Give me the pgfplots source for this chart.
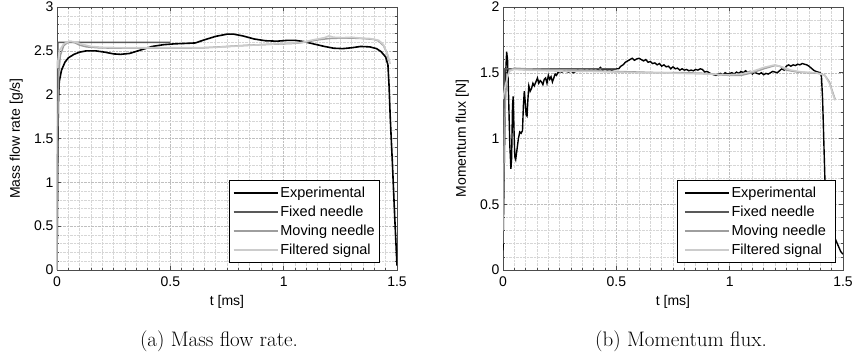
\documentclass[border=0pt]{standalone}
\usepackage{fontspec}
\usepackage{pgfplots}
\pgfplotsset{compat=1.18}
\newfontfamily\helv{Liberation Sans}
\definecolor{cfixed}{gray}{0.35}
\definecolor{cmoving}{gray}{0.62}
\definecolor{cfilt}{gray}{0.80}
\pgfplotsset{
  mystyle/.style={
    anchor=south west, scale only axis, width=340pt, height=263pt,
    xmin=0, xmax=1.5, xtick={0,0.5,1,1.5},
    minor x tick num=9, minor y tick num=4,
    grid=both,
    major grid style={densely dotted, black!25, line width=0.4pt},
    minor grid style={densely dotted, black!16, line width=0.4pt},
    axis line style={black!70, line width=0.6pt},
    tick style={black!70, line width=0.5pt},
    major tick length=4pt, minor tick length=2pt,
    tick align=inside,
    /pgf/number format/assume math mode=true,
    font=\helv\fontsize{14}{16}\selectfont,
    tick label style={font=\helv\fontsize{14}{16}\selectfont},
    xticklabel style={yshift=-3pt},
    label style={font=\helv\fontsize{14}{16}\selectfont},
    xlabel={t [ms]},
    xlabel style={at={(axis description cs:0.5,0)}, anchor=center, yshift=-32pt},
    ylabel style={at={(axis description cs:-0.12,0.5)}, anchor=center},
    legend cell align=left,
    legend style={anchor=south east, draw=black, fill=white, line width=0.6pt,
      font=\helv\fontsize{14.5}{17}\selectfont, inner xsep=3pt, inner ysep=3pt, row sep=0pt,
      nodes={text height=11pt, text depth=3pt, inner ysep=2.5pt}},
    legend image code/.code={\draw[#1] (0pt,0pt) -- (44pt,0pt);},
  },
  cexp/.style={black, line width=1.6pt},
  cfix/.style={cfixed, line width=1.5pt},
  cmov/.style={cmoving, line width=1.5pt},
  cfil/.style={cfilt, line width=1.6pt},
}
\begin{document}
\begin{tikzpicture}
\useasboundingbox (0,0) rectangle (852pt,355pt);
\begin{axis}[mystyle, at={(57pt,85pt)}, ymin=0, ymax=3,
  ytick={0,0.5,1,1.5,2,2.5,3},
  ylabel={Mass flow rate [g/s]},
  legend style={at={(rel axis cs:0.95,0.027)}}]
\addplot[cexp] coordinates {(0,0) (0.003,1.2) (0.006,1.9) (0.01,2.15) (0.02,2.28) (0.035,2.37) (0.05,2.42) (0.075,2.46) (0.1,2.485) (0.13,2.50) (0.17,2.50) (0.21,2.485) (0.25,2.465) (0.28,2.46) (0.32,2.47) (0.37,2.51) (0.42,2.55) (0.47,2.57) (0.52,2.58) (0.57,2.585) (0.61,2.59) (0.65,2.625) (0.7,2.665) (0.75,2.69) (0.78,2.69) (0.82,2.67) (0.87,2.635) (0.92,2.615) (0.97,2.61) (1.02,2.62) (1.05,2.62) (1.09,2.605) (1.13,2.58) (1.18,2.55) (1.22,2.53) (1.26,2.525) (1.3,2.535) (1.34,2.55) (1.38,2.545) (1.41,2.525) (1.43,2.49) (1.45,2.43) (1.46,2.34) (1.465,2.1) (1.47,1.75) (1.48,1.2) (1.49,0.6) (1.5,0.05)};
\addlegendentry{Experimental}
\addplot[cfix] coordinates {(0,0) (0.002,2.0) (0.004,2.595) (0.5,2.595)};
\addlegendentry{Fixed needle}
\addplot[cmov] coordinates {(0,0) (0.003,1.6) (0.008,2.25) (0.015,2.45) (0.03,2.56) (0.05,2.60) (0.065,2.605) (0.08,2.59) (0.1,2.565) (0.13,2.545) (0.18,2.535) (0.25,2.53) (0.35,2.53) (0.45,2.53) (0.55,2.53) (0.65,2.535) (0.75,2.55) (0.85,2.565) (0.95,2.575) (1.05,2.585) (1.1,2.6) (1.15,2.625) (1.2,2.64) (1.25,2.645) (1.3,2.645) (1.35,2.64) (1.4,2.63) (1.42,2.61) (1.44,2.56) (1.455,2.48) (1.465,2.38)};
\addlegendentry{Moving needle}
\addplot[cfil] coordinates {(0,2.3) (0.01,2.5) (0.03,2.58) (0.055,2.61) (0.08,2.6) (0.11,2.575) (0.15,2.55) (0.2,2.54) (0.3,2.535) (0.4,2.535) (0.5,2.535) (0.6,2.535) (0.7,2.54) (0.8,2.555) (0.9,2.57) (1.0,2.585) (1.08,2.595) (1.12,2.62) (1.16,2.64) (1.18,2.65) (1.2,2.67) (1.22,2.655) (1.26,2.65) (1.3,2.655) (1.34,2.645) (1.38,2.64) (1.42,2.62) (1.44,2.57) (1.46,2.45) (1.47,2.35)};
\addlegendentry{Filtered signal}
\end{axis}
\begin{axis}[mystyle, at={(503pt,85pt)}, ymin=0, ymax=2,
  ytick={0,0.5,1,1.5,2},
  ylabel={Momentum flux [N]},
  legend style={at={(rel axis cs:0.977,0.027)}, inner xsep=7pt}]
\addplot[cexp, line width=1.4pt] coordinates {(0,0.15) (0.004,0.6) (0.008,1.1) (0.012,1.5) (0.016,1.66) (0.02,1.6) (0.025,1.3) (0.03,0.95) (0.035,0.77) (0.038,0.85) (0.042,1.25) (0.045,1.32) (0.048,1.1) (0.052,0.86) (0.056,0.84) (0.062,0.92) (0.068,1.0) (0.074,1.05) (0.08,1.04) (0.086,1.06) (0.09,1.25) (0.094,1.36) (0.098,1.28) (0.102,1.18) (0.106,1.17) (0.11,1.3) (0.114,1.4) (0.12,1.36) (0.126,1.38) (0.132,1.42) (0.138,1.4) (0.145,1.43) (0.152,1.46) (0.158,1.42) (0.164,1.44) (0.17,1.43) (0.176,1.41) (0.182,1.45) (0.188,1.46) (0.194,1.42) (0.2,1.48) (0.206,1.45) (0.212,1.47) (0.218,1.43) (0.224,1.46) (0.23,1.49) (0.236,1.48) (0.242,1.5) (0.25,1.51) (0.26,1.505) (0.27,1.515) (0.28,1.51) (0.29,1.505) (0.3,1.515) (0.31,1.5) (0.32,1.51) (0.33,1.52) (0.34,1.51) (0.35,1.515) (0.36,1.52) (0.37,1.51) (0.38,1.52) (0.39,1.515) (0.4,1.52) (0.41,1.515) (0.42,1.525) (0.43,1.54) (0.44,1.52) (0.45,1.53) (0.46,1.52) (0.47,1.525) (0.48,1.52) (0.5,1.53) (0.51,1.53) (0.52,1.55) (0.53,1.56) (0.54,1.58) (0.55,1.59) (0.56,1.6) (0.57,1.61) (0.58,1.595) (0.59,1.605) (0.6,1.61) (0.61,1.6) (0.62,1.59) (0.63,1.6) (0.64,1.58) (0.65,1.585) (0.66,1.57) (0.67,1.575) (0.68,1.56) (0.69,1.57) (0.7,1.55) (0.71,1.56) (0.72,1.545) (0.73,1.55) (0.74,1.53) (0.75,1.545) (0.76,1.53) (0.77,1.535) (0.78,1.52) (0.79,1.53) (0.8,1.52) (0.81,1.525) (0.82,1.515) (0.83,1.52) (0.84,1.515) (0.85,1.525) (0.86,1.52) (0.87,1.53) (0.88,1.525) (0.89,1.505) (0.9,1.51) (0.91,1.5) (0.92,1.49) (0.93,1.485) (0.94,1.48) (0.95,1.49) (0.96,1.495) (0.97,1.485) (0.98,1.5) (0.99,1.49) (1.0,1.495) (1.01,1.5) (1.02,1.49) (1.03,1.505) (1.04,1.495) (1.05,1.51) (1.06,1.5) (1.07,1.515) (1.08,1.5) (1.09,1.51) (1.1,1.49) (1.11,1.505) (1.12,1.495) (1.13,1.49) (1.14,1.5) (1.15,1.485) (1.16,1.495) (1.17,1.49) (1.18,1.5) (1.19,1.51) (1.2,1.505) (1.21,1.5) (1.22,1.515) (1.23,1.53) (1.24,1.52) (1.25,1.55) (1.26,1.56) (1.27,1.55) (1.28,1.56) (1.29,1.555) (1.3,1.565) (1.31,1.56) (1.32,1.57) (1.33,1.565) (1.34,1.56) (1.35,1.55) (1.36,1.535) (1.37,1.52) (1.38,1.51) (1.39,1.505) (1.4,1.5) (1.405,1.47) (1.41,1.3) (1.415,1.0) (1.42,0.7) (1.425,0.55) (1.43,0.45) (1.44,0.36) (1.45,0.3) (1.46,0.26) (1.47,0.22) (1.48,0.18) (1.49,0.14) (1.5,0.12)};
\addlegendentry{Experimental}
\addplot[cfix] coordinates {(0,0.2) (0.004,1.2) (0.008,1.53) (0.5,1.53)};
\addlegendentry{Fixed needle}
\addplot[cmov] coordinates {(0,0.3) (0.006,1.0) (0.012,1.35) (0.02,1.48) (0.03,1.52) (0.05,1.535) (0.1,1.53) (0.2,1.525) (0.3,1.52) (0.4,1.515) (0.5,1.51) (0.6,1.505) (0.7,1.5) (0.8,1.5) (0.9,1.495) (0.95,1.485) (1.0,1.48) (1.05,1.48) (1.1,1.5) (1.15,1.53) (1.2,1.555) (1.22,1.55) (1.25,1.52) (1.3,1.505) (1.35,1.5) (1.4,1.495) (1.42,1.48) (1.44,1.43) (1.455,1.35) (1.465,1.3)};
\addlegendentry{Moving needle}
\addplot[cfil] coordinates {(0,1.3) (0.01,1.4) (0.02,1.47) (0.03,1.515) (0.05,1.525) (0.1,1.52) (0.2,1.515) (0.3,1.51) (0.4,1.51) (0.5,1.505) (0.6,1.5) (0.7,1.5) (0.8,1.495) (0.9,1.49) (1.0,1.485) (1.05,1.49) (1.1,1.51) (1.15,1.54) (1.2,1.56) (1.23,1.545) (1.27,1.52) (1.32,1.505) (1.38,1.5) (1.42,1.48) (1.44,1.42) (1.455,1.34) (1.465,1.29)};
\addlegendentry{Filtered signal}
\end{axis}
\node[font=\fontsize{21}{24}\selectfont, anchor=base] at (219pt,8pt) {(a) Mass flow rate.};
\node[font=\fontsize{21}{24}\selectfont, anchor=base] at (681pt,8pt) {(b) Momentum flux.};
\end{tikzpicture}
\end{document}
